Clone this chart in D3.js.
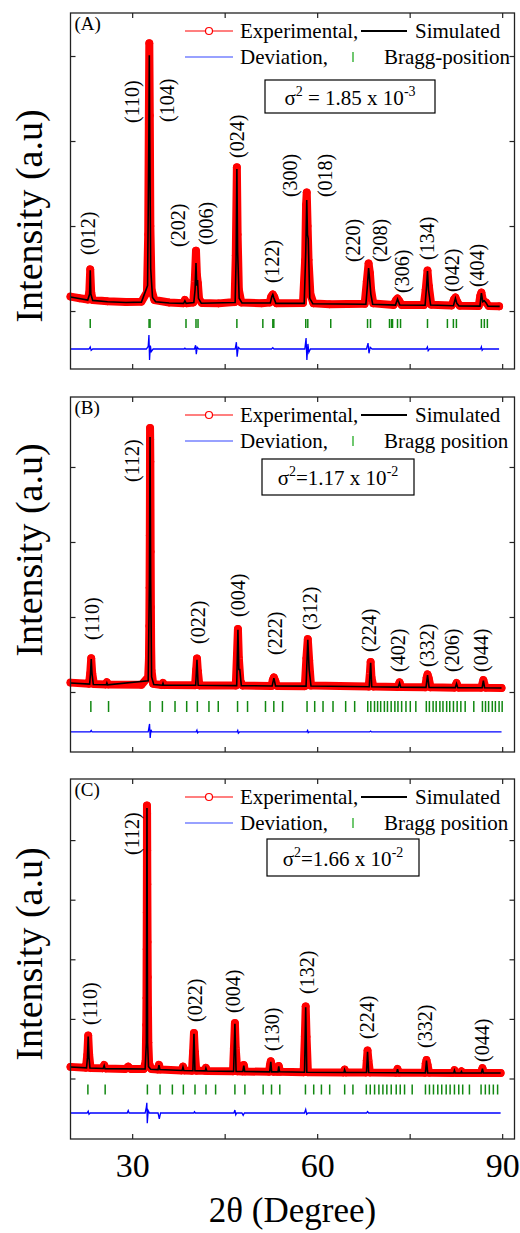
<!DOCTYPE html>
<html>
<head>
<meta charset="utf-8">
<script src="https://cdn.jsdelivr.net/npm/d3@7"></script>
<style>
  body { margin: 0; background: #fff; }
  svg text { font-family: "Liberation Serif", "DejaVu Serif", serif !important; fill: #000; }
</style>
</head>
<body>
<svg></svg>
<script>
// ---- data (2theta in degrees, intensity in arbitrary counts) ----
const xTicks = [30, 45, 60, 75, 90];
const xTickLabels = [30, 60, 90];

const yTicksA = [0, 1000, 2000, 3000];
const yTicksB = [0, 1000, 2000, 3000];
const yTicksC = [0, 1000, 2000, 3000, 4000];

const expA = [[20.0,170],[21.5,150],[22.8,135],[23.05,220],[23.2,490],[23.35,220],[23.6,130],[26,115],[29,105],[31.5,110],
  [32.4,220],[32.6,900],[32.7,2200],[32.78,3150],[32.86,2300],[32.95,1000],[33.15,250],[33.6,130],[36,100],
  [38.3,92],[38.55,130],[38.8,92],[39.9,100],[40.15,350],[40.35,710],[40.5,420],[40.65,330],[40.85,140],[41.3,95],
  [44,90],[46.6,105],[46.8,650],[46.98,1690],[47.1,900],[47.3,250],[47.7,100],[51,92],[52.3,100],[52.55,170],[52.81,195],
  [53.05,165],[53.4,92],[57.7,95],[58.05,600],[58.2,1250],[58.31,1395],[58.45,1000],[58.6,600],[58.9,200],[59.4,90],
  [62,80],[67.7,85],[68.05,350],[68.34,560],[68.55,450],[68.75,250],[69.1,90],[72.4,72],[72.8,130],[73.03,147],[73.3,120],
  [73.7,70],[77.3,70],[77.6,250],[77.89,476],[78.1,300],[78.5,75],[81.8,65],[82.2,140],[82.42,160],[82.7,110],[83.1,62],
  [86.2,60],[86.45,180],[86.63,218],[86.9,120],[87.4,100],[87.8,60],[89.5,55]];
const simA = [[20.0,165],[22.8,130],[23.1,200],[23.2,480],[23.3,200],[23.6,125],[26,110],[29,100],[31.5,105],
  [32.5,300],[32.7,2000],[32.78,3010],[32.86,2000],[33.0,500],[33.3,160],[33.8,110],[36,95],[38.35,90],[38.55,120],[38.75,90],
  [40.0,100],[40.2,250],[40.35,565],[40.47,300],[40.6,365],[40.75,150],[41.2,92],[46.7,100],[46.85,600],[46.98,1670],
  [47.1,700],[47.35,150],[47.8,95],[52.4,95],[52.65,170],[52.81,195],[52.95,160],[53.3,90],[57.9,90],[58.15,700],
  [58.31,1306],[58.43,900],[58.55,850],[58.8,150],[59.3,85],[67.9,80],[68.15,300],[68.34,506],[68.5,380],[68.7,200],
  [69.0,80],[72.7,70],[73.03,140],[73.4,70],[77.5,68],[77.75,300],[77.89,470],[78.05,250],[78.4,70],[82.1,62],[82.42,150],
  [82.65,90],[83.0,60],[86.4,58],[86.63,210],[86.85,110],[87.1,120],[87.4,95],[87.7,58],[89.6,55]];
const devA = [[20,0],[23.0,0],[23.2,25],[23.35,-15],[23.6,0],[32.3,0],[32.6,30],[32.72,165],[32.82,-130],[32.95,40],
  [33.1,-30],[33.4,0],[38.4,0],[38.55,10],[38.7,0],[40.1,0],[40.28,45],[40.4,-60],[40.55,20],[40.8,0],[46.7,0],[46.9,80],
  [47.02,-90],[47.2,20],[47.5,0],[52.6,0],[52.8,15],[53.0,0],[58.0,0],[58.2,130],[58.33,-130],[58.5,60],[58.65,-40],
  [58.9,0],[68.0,0],[68.25,70],[68.4,-50],[68.6,20],[68.9,0],[77.7,0],[77.88,25],[78.0,-20],[78.2,0],[86.5,0],[86.63,25],
  [86.75,-15],[86.9,0],[89.5,0]];
const braggA = [23.20,32.74,32.90,38.73,40.35,40.68,46.98,51.19,52.81,52.97,58.15,58.48,62.20,68.17,68.65,71.73,72.06,
  72.22,73.03,73.52,77.89,81.12,82.09,82.58,86.63,87.11,87.60];
const hklA = [["(012)",22.87,659],["(110)",29.99,2212],["(104)",35.65,2224],["(202)",37.43,753],["(006)",41.96,776],
  ["(024)",46.98,1800],["(122)",52.65,329],["(300)",55.56,1341],["(018)",61.22,1341],["(220)",65.76,576],
  ["(208)",70.12,576],["(306)",73.68,212],["(134)",77.89,600],["(042)",81.93,224],["(404)",85.97,282]];

const expB = [[20.0,125],[23.0,110],[23.2,250],[23.36,450],[23.52,250],[23.8,105],[25.7,100],[25.9,130],[26.1,100],
  [31.5,95],[32.6,200],[32.72,430],[32.78,880],[32.82,1390],[32.86,2090],[32.88,2600],[32.9,3520],[32.92,3370],
  [32.95,3070],[33.0,1870],[33.04,1130],[33.08,600],[33.14,290],[33.4,110],[34.8,92],[35.0,120],[35.2,92],[40.2,90],
  [40.38,300],[40.51,447],[40.65,280],[40.9,88],[46.8,85],[47.0,500],[47.15,840],[47.3,450],[47.55,150],[47.9,85],
  [52.6,80],[52.8,160],[52.98,195],[53.2,150],[53.5,80],[58.0,78],[58.25,450],[58.48,705],[58.7,420],[59.0,85],
  [68.35,72],[68.55,250],[68.67,400],[68.8,200],[69.1,72],[73.1,65],[73.36,130],[73.6,65],[77.5,62],[77.75,190],
  [77.9,235],[78.1,180],[78.4,62],[82.3,58],[82.6,120],[82.9,58],[86.6,57],[86.95,160],[87.3,57],[89.9,53]];
const simB = [[20.0,120],[23.1,105],[23.25,250],[23.36,440],[23.48,250],[23.7,100],[25.8,96],[25.9,120],[26.0,96],
  [32.6,150],[32.8,1500],[32.9,3400],[33.0,1500],[33.15,200],[33.5,100],[34.9,90],[35.0,115],[35.1,90],[40.3,90],
  [40.51,430],[40.7,90],[46.95,85],[47.15,830],[47.3,300],[47.45,300],[47.7,85],[52.7,80],[52.98,185],[53.25,80],
  [58.2,78],[58.48,695],[58.7,300],[59.0,80],[68.45,70],[68.67,390],[68.85,70],[73.15,65],[73.36,120],[73.55,65],
  [77.65,62],[77.9,225],[78.15,62],[82.4,58],[82.6,110],[82.8,58],[86.75,56],[86.95,150],[87.15,56],[89.9,53]];
const devB = [[20,0],[23.2,0],[23.36,20],[23.5,0],[32.6,0],[32.82,107],[32.92,-80],[33.05,30],[33.2,0],[40.35,0],
  [40.5,25],[40.6,-10],[40.75,0],[47.0,0],[47.12,20],[47.22,-15],[47.4,0],[58.3,0],[58.45,20],[58.55,-10],[58.7,0],
  [68.5,0],[68.67,12],[68.8,0],[89.9,0]];
const braggB = [23.30,26.17,32.90,34.90,36.95,38.84,40.57,42.45,43.96,47.09,48.71,51.62,52.97,54.40,58.36,59.60,60.95,
  62.57,64.62,66.08,68.2,68.7,69.3,69.8,70.3,70.9,71.4,72.0,72.6,73.1,73.7,74.4,75.1,76.0,77.7,78.2,78.8,79.3,79.9,
  80.4,81.0,81.5,82.1,82.7,83.3,84.0,85.4,86.8,87.3,87.8,88.4,88.9,89.5,90.0];
const hklB = [["(112)",30.0,2800],["(110)",23.52,693],["(022)",40.67,640],["(004)",47.14,1000],["(222)",53.14,493],
  ["(312)",58.80,827],["(224)",68.35,533],["(402)",73.04,267],["(332)",77.73,333],["(206)",81.93,267],["(044)",86.63,267]];

const expC = [[20.0,195],[22.5,180],[22.72,400],[22.87,720],[23.02,400],[23.25,175],[25.2,170],[25.46,226],[25.7,168],
  [28.9,160],[29.36,200],[29.8,158],[31.9,160],[32.2,300],[32.28,900],[32.32,1350],[32.35,2170],[32.37,2790],
  [32.39,3550],[32.4,4580],[32.42,4450],[32.44,3830],[32.46,3260],[32.5,2290],[32.53,1700],[32.56,1180],[32.62,600],
  [32.75,250],[33.1,160],[34.15,150],[34.35,230],[34.55,150],[38.0,135],[38.24,200],[38.45,135],[39.7,130],[39.88,450],
  [40.02,765],[40.16,450],[40.4,130],[41.8,128],[41.96,180],[42.15,126],[46.35,120],[46.5,500],[46.66,930],[46.8,500],
  [47.05,120],[47.9,118],[48.1,226],[48.3,118],[52.2,112],[52.35,230],[52.48,290],[52.65,220],[52.9,112],[53.55,112],
  [53.77,210],[54.0,112],[57.8,105],[58.0,700],[58.14,1210],[58.28,700],[58.5,105],[64.25,100],[64.45,150],[64.65,100],
  [67.9,100],[68.05,300],[68.17,470],[68.32,300],[68.55,100],[72.8,96],[73.03,160],[73.25,96],[77.45,95],[77.6,250],
  [77.73,310],[77.9,230],[78.15,95],[82.05,93],[82.26,140],[82.5,93],[83.2,93],[83.4,120],[83.6,93],[86.55,92],
  [86.8,175],[87.05,92],[89.75,92]];
const simC = [[20.0,193],[22.6,178],[22.75,350],[22.87,705],[23.0,350],[23.15,175],[25.3,168],[25.46,215],[25.6,166],
  [32.1,160],[32.3,600],[32.4,4540],[32.5,600],[32.65,200],[33.0,155],[34.2,150],[34.35,225],[34.5,150],[38.1,135],
  [38.24,190],[38.38,135],[39.85,130],[40.02,750],[40.18,130],[41.85,128],[41.96,170],[42.1,126],[46.45,120],
  [46.66,920],[46.85,120],[47.95,118],[48.1,215],[48.25,118],[52.3,112],[52.48,280],[52.62,112],[53.65,112],
  [53.77,205],[53.9,112],[57.95,105],[58.14,1195],[58.32,105],[64.35,100],[64.45,145],[64.6,100],[68.0,100],
  [68.17,450],[68.35,100],[72.9,96],[73.03,155],[73.18,96],[77.55,95],[77.73,300],[77.92,95],[82.15,93],[82.26,135],
  [82.4,93],[83.3,93],[83.4,115],[83.5,93],[86.65,92],[86.8,165],[86.95,92],[89.75,92]];
const devC = [[20,0],[22.7,0],[22.87,30],[23.0,-20],[23.2,0],[29.2,0],[29.36,40],[29.5,0],[32.1,0],[32.3,100],
  [32.38,170],[32.45,-170],[32.6,40],[32.8,0],[34.2,0],[34.4,-100],[34.6,0],[40.0,0],[40.1,20],[40.25,0],[46.5,0],
  [46.66,50],[46.8,-30],[46.95,0],[47.8,0],[48.0,-40],[48.2,0],[57.95,0],[58.14,60],[58.3,-20],[58.5,0],[68.0,0],
  [68.17,25],[68.35,0],[89.75,0]];
const braggC = [22.82,25.62,32.47,34.52,36.52,38.30,40.19,41.97,43.53,46.66,48.28,51.24,52.60,53.94,58.10,59.44,60.69,
  62.03,64.46,65.80,67.97,68.61,69.31,70.01,70.66,71.30,72.01,72.82,73.47,74.17,75.41,77.56,78.21,78.86,79.56,80.20,
  80.92,81.56,82.26,82.96,83.60,84.69,86.58,87.27,87.92,88.57,89.26];
const hklC = [["(112)",30.0,3750],["(110)",23.2,898],["(022)",40.19,948],["(004)",46.34,1099],["(130)",52.65,461],
  ["(132)",58.31,1418],["(224)",68.02,663],["(332)",77.41,512],["(044)",86.8,277]];

const panelLetters = ["(A)", "(B)", "(C)"];
const sigmaValues = [["2", " = 1.85 x 10", "-3"], ["2", "=1.17 x 10", "-2"], ["2", "=1.66 x 10", "-2"]];
const braggNames = ["Bragg-position", "Bragg position", "Bragg position"];

// ---- layout ----
const W = 520, H = 1233;
const left = 70.5, right = 514.5;
const FONT = "'Liberation Serif', 'DejaVu Serif', serif";
const panels = [
  {top: 13, bottom: 369, yDomain: [-682, 3506], yTicks: yTicksA, exp: expA, sim: simA, dev: devA, devOffset: -447,
   bragg: braggA, hkl: hklA, braggPx: [8, 17], box: [265, 435, 67, 100], yLabelY: 216},
  {top: 397, bottom: 752, yDomain: [-800, 3933], yTicks: yTicksB, exp: expB, sim: simB, dev: devB, devOffset: -533,
   bragg: braggB, hkl: hklB, braggPx: [9, 20], box: [262, 414, 62, 98], yLabelY: 550},
  {top: 779, bottom: 1139, yDomain: [-1015, 5025], yTicks: yTicksC, exp: expC, sim: simC, dev: devC, devOffset: -579,
   bragg: braggC, hkl: hklC, braggPx: [6, 16], box: [267, 419, 60, 97], yLabelY: 954}
];

const svg = d3.select("svg").attr("width", W).attr("height", H).attr("font-family", FONT);
const x = d3.scaleLinear().domain([20, 92]).range([left, right]);

panels.forEach((p, i) => {
  const y = d3.scaleLinear().domain(p.yDomain).range([p.bottom, p.top]);
  const g = svg.append("g");
  const line = d3.line().x(d => x(d[0])).y(d => y(d[1]));

  // experimental: overlapping open circles form a band
  g.append("path").datum(p.exp).attr("d", line)
    .attr("fill", "none").attr("stroke", "#ff0000").attr("stroke-width", 8)
    .attr("stroke-linejoin", "round").attr("stroke-linecap", "round");
  g.append("g").selectAll("circle").data(p.exp).join("circle")
    .attr("cx", d => x(d[0])).attr("cy", d => y(d[1])).attr("r", 3.5)
    .attr("fill", "none").attr("stroke", "#ff0000").attr("stroke-width", 1);

  // simulated
  g.append("path").datum(p.sim).attr("d", line)
    .attr("fill", "none").attr("stroke", "#000").attr("stroke-width", 1.6);

  // bragg positions
  const y0 = y(0);
  g.append("g").selectAll("line").data(p.bragg).join("line")
    .attr("x1", d => x(d)).attr("x2", d => x(d))
    .attr("y1", y0 + p.braggPx[0]).attr("y2", y0 + p.braggPx[1])
    .attr("stroke", "#118811").attr("stroke-width", 1.5);

  // deviation
  g.append("path").datum(p.dev)
    .attr("d", d3.line().x(d => x(d[0])).y(d => y(d[1] + p.devOffset)))
    .attr("fill", "none").attr("stroke", "#0000ff").attr("stroke-width", 1.3);

  // frame and ticks
  const ax = (a, tr) => g.append("g").attr("transform", tr).call(a)
    .call(s => s.select(".domain").remove())
    .call(s => s.selectAll(".tick line").attr("stroke", "#222").attr("stroke-width", 1.2));
  ax(d3.axisTop(x).tickValues(xTicks).tickSize(-5).tickFormat(""), `translate(0,${p.top})`);
  const bottomAxis = ax(d3.axisBottom(x).tickValues(xTicks).tickSize(-5).tickPadding(14)
    .tickFormat(d => (i === 2 && xTickLabels.includes(d)) ? d : ""), `translate(0,${p.bottom})`);
  bottomAxis.attr("font-family", FONT);
  bottomAxis.selectAll("text").attr("font-size", 34).attr("fill", "#000");
  ax(d3.axisLeft(y).tickValues(p.yTicks).tickSize(-5).tickFormat(""), `translate(${left},0)`);
  ax(d3.axisRight(y).tickValues(p.yTicks).tickSize(-5).tickFormat(""), `translate(${right},0)`);
  g.append("rect").attr("x", left).attr("y", p.top).attr("width", right - left).attr("height", p.bottom - p.top)
    .attr("fill", "none").attr("stroke", "#222").attr("stroke-width", 1.3);

  // hkl labels
  g.append("g").selectAll("text").data(p.hkl).join("text")
    .attr("transform", d => `translate(${x(d[1])},${y(d[2])}) rotate(-90)`)
    .attr("dominant-baseline", "central").attr("font-size", 20)
    .text(d => d[0]);

  // panel letter
  g.append("text").attr("x", left + 4).attr("y", p.top + 17).attr("font-size", 19).text(panelLetters[i]);

  // legend
  const b1 = p.top + 25, b2 = p.top + 51;
  g.append("line").attr("x1", 185).attr("x2", 233).attr("y1", b1 - 7).attr("y2", b1 - 7)
    .attr("stroke", "#ff0000").attr("stroke-width", 1.2);
  g.append("circle").attr("cx", 209).attr("cy", b1 - 7).attr("r", 3.5)
    .attr("fill", "#fff").attr("stroke", "#ff0000").attr("stroke-width", 1.2);
  g.append("text").attr("x", 240).attr("y", b1).attr("font-size", 21).text("Experimental,");
  g.append("line").attr("x1", 361).attr("x2", 407).attr("y1", b1 - 7).attr("y2", b1 - 7)
    .attr("stroke", "#000").attr("stroke-width", 1.8);
  g.append("text").attr("x", 415).attr("y", b1).attr("font-size", 21).text("Simulated");
  g.append("line").attr("x1", 185).attr("x2", 233).attr("y1", b2 - 7).attr("y2", b2 - 7)
    .attr("stroke", "#3344ff").attr("stroke-width", 1.2);
  g.append("text").attr("x", 240).attr("y", b2).attr("font-size", 21).text("Deviation,");
  g.append("line").attr("x1", 353).attr("x2", 353).attr("y1", b2 - 12).attr("y2", b2 - 2)
    .attr("stroke", "#22aa22").attr("stroke-width", 1.3);
  g.append("text").attr("x", 384).attr("y", b2).attr("font-size", 21).text(braggNames[i]);

  // sigma box
  const [bx0, bx1, by0, by1] = p.box;
  g.append("rect").attr("x", bx0).attr("y", p.top + by0).attr("width", bx1 - bx0).attr("height", by1 - by0)
    .attr("fill", "#fff").attr("stroke", "#000").attr("stroke-width", 1.2);
  const sv = sigmaValues[i];
  const st = g.append("text").attr("x", (bx0 + bx1) / 2).attr("y", p.top + (by0 + by1) / 2 + 8)
    .attr("text-anchor", "middle").attr("font-size", 21);
  st.append("tspan").text("σ");
  st.append("tspan").attr("dy", -9).attr("font-size", 14).text(sv[0]);
  st.append("tspan").attr("dy", 9).text(sv[1]);
  st.append("tspan").attr("dy", -9).attr("font-size", 14).text(sv[2]);

  // y label
  svg.append("text").attr("transform", `translate(42,${p.yLabelY}) rotate(-90)`)
    .attr("text-anchor", "middle").attr("font-size", 38).text("Intensity (a.u)");
});

svg.append("text").attr("x", (left + right) / 2).attr("y", 1222).attr("text-anchor", "middle")
  .attr("font-size", 35).text("2θ (Degree)");
</script>
</body>
</html>
